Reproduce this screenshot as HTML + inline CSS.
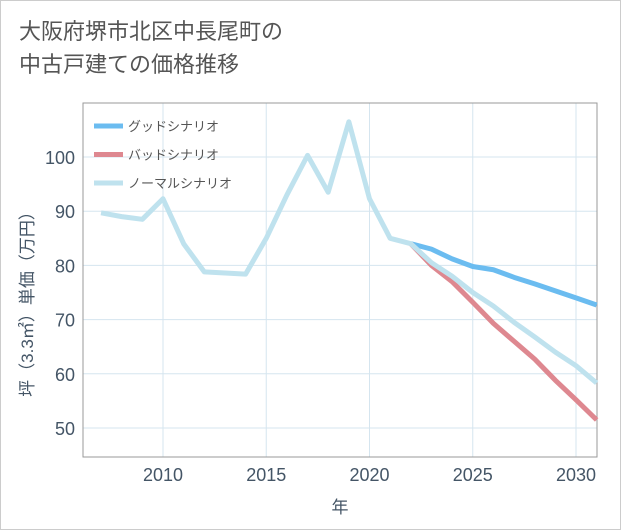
<!DOCTYPE html>
<html><head><meta charset="utf-8"><style>
body{margin:0;background:#fff;}
#wrap{width:619px;height:528px;border:1px solid #ccc;position:relative;background:#fff;font-family:"Liberation Sans","Noto Sans CJK JP",sans-serif;}
#title{position:absolute;left:18px;top:14px;font-size:22px;line-height:33px;color:#555;}
</style></head><body>
<div id="wrap">
<div id="title">大阪府堺市北区中長尾町の<br>中古戸建ての価格推移</div>
<svg id="chart" width="621" height="530" style="position:absolute;left:-1px;top:-1px"></svg>
</div>
<script>
const normalYears=[2007,2008,2009,2010,2011,2012,2013,2014,2015,2016,2017,2018,2019,2020,2021,2022,2023,2024,2025,2026,2027,2028,2029,2030,2031];
const normalVals=[89.7,89,88.5,92.3,84,78.8,78.6,78.4,85,93,100.3,93.5,106.5,92.3,85,84,80.5,78,75,72.5,69.5,66.8,64,61.5,58.3];
const futureYears=[2022,2023,2024,2025,2026,2027,2028,2029,2030,2031];
const goodVals=[84,83,81.2,79.8,79.2,77.8,76.6,75.3,74,72.7];
const badVals=[84,80,77,73.2,69.3,66,62.7,58.8,55.2,51.5];
const xTicks=[2010,2015,2020,2025,2030];
const yTicks=[50,60,70,80,90,100];
const L=83,R=597,T=103,B=457;
const x=y=>163+(y-2010)*(576-163)/20;
const yv=v=>428-(v-50)*(428-157)/50;
const svg=document.getElementById('chart');const NS='http://www.w3.org/2000/svg';
function mk(t,a,p){const e=document.createElementNS(NS,t);for(const k in a)e.setAttribute(k,a[k]);(p||svg).appendChild(e);return e;}
for(const v of yTicks){const l=mk('line',{x1:L,x2:R,y1:yv(v),y2:yv(v),stroke:'#d5e5ef','stroke-width':1});

const t=mk('text',{x:L-8,y:yv(v)+7,'text-anchor':'end','font-size':18,fill:'#456'});t.textContent=v;
}
for(const v of xTicks){const l=mk('line',{x1:x(v),x2:x(v),y1:T,y2:B,stroke:'#d5e5ef','stroke-width':1});

const t=mk('text',{x:x(v),y:B+24,'text-anchor':'middle','font-size':18,fill:'#456'});t.textContent=v;
}
const fr=mk('rect',{x:L,y:T,width:R-L,height:B-T,fill:'none',stroke:'#999','stroke-width':1});

function line(xs,vs,c,name){const p=mk('polyline',{points:xs.map((a,i)=>x(a)+','+yv(vs[i])).join(' '),fill:'none',stroke:c,'stroke-width':5,'stroke-linejoin':'round'});
}
line(futureYears,goodVals,'#6bbcf0','good-scenario-line');
line(futureYears,badVals,'#de8890','bad-scenario-line');
line(normalYears,normalVals,'#bfe2ee','normal-scenario-line');
const leg=[['グッドシナリオ','#6bbcf0'],['バッドシナリオ','#de8890'],['ノーマルシナリオ','#bfe2ee']];
leg.forEach((d,i)=>{const yy=126+i*28.5;
const s=mk('line',{x1:94,x2:123,y1:yy,y2:yy,stroke:d[1],'stroke-width':5});

const t=mk('text',{x:128,y:yy+5,'font-size':13,fill:'#555'});t.textContent=d[0];
});
const xt=mk('text',{x:340,y:513,'text-anchor':'middle','font-size':17,fill:'#456'});xt.textContent='年';

const yt=mk('text',{x:0,y:0,'text-anchor':'middle','font-size':17,fill:'#456',transform:'translate(33,300) rotate(-90)'});yt.textContent='坪（3.3㎡）単価（万円）';

</script>
</body></html>
